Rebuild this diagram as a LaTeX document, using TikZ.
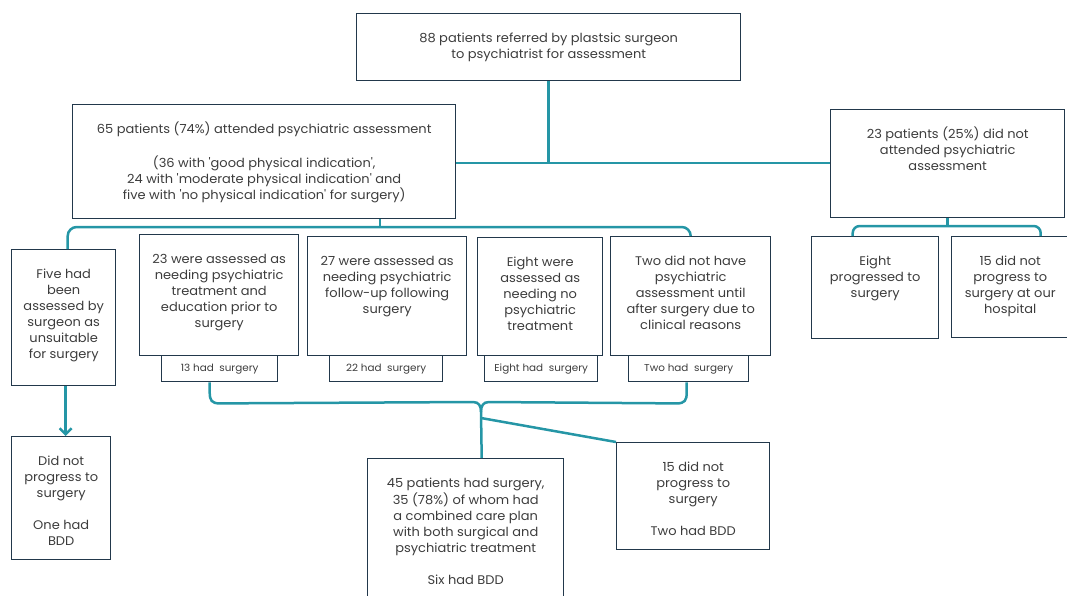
\documentclass[tikz,border=0pt]{standalone}
\usepackage{fontspec}
\setmainfont{Poppins}[Ligatures=TeXOff,FakeStretch=1.04]
\usetikzlibrary{arrows.meta,calc}
\definecolor{tealc}{HTML}{2596A6}
\definecolor{bord}{HTML}{22384B}
\definecolor{txt}{HTML}{3C3C3C}
\newcommand{\bxt}[3]{\parbox[c][#2][t]{#1}{\centering\vspace*{17.5pt}\strut #3\par}}
\tikzset{
  box/.style={draw=bord, line width=1.4pt, inner sep=0pt, anchor=north west, text=txt,
    font=\fontsize{12.5}{16}\selectfont},
  lab/.style={draw=bord, line width=1.4pt, inner sep=0pt, anchor=north west, text=txt,
    minimum height=26pt, font=\fontsize{10}{12}\selectfont},
  conn/.style={draw=tealc, line width=2.5pt},
}
\begin{document}
\begin{tikzpicture}[x=1pt,y=-1pt]
\useasboundingbox (0,0) rectangle (1067,595);
% boxes
\node[box] (top) at (356,13) {\bxt{384pt}{67pt}{88 patients referred by plastsic surgeon\\to psychiatrist for assessment}};
\node[box] (L) at (72,104) {\bxt{383pt}{114pt}{65 patients (74\%) attended psychiatric assessment\\[16pt](36 with 'good physical indication',\\24 with 'moderate physical indication' and\\five with 'no physical indication' for surgery)}};
\node[box] (R) at (830,109) {\bxt{234pt}{108pt}{23 patients (25\%) did not\\attended psychiatric\\assessment}};
\node[box] (S5) at (11,249) {\bxt{104pt}{136pt}{Five had\\been\\assessed by\\surgeon as\\unsuitable\\for surgery}};
\node[box] (A23) at (139,234) {\bxt{159pt}{121pt}{23 were assessed as\\needing psychiatric\\treatment and\\education prior to\\surgery}};
\node[box] (A27) at (307,236) {\bxt{159pt}{119pt}{27 were assessed as\\needing psychiatric\\follow-up following\\surgery}};
\node[box] (A8) at (477,237) {\bxt{125pt}{118pt}{Eight were\\assessed as\\needing no\\psychiatric\\treatment}};
\node[box] (A2) at (610,236) {\bxt{160pt}{119pt}{Two did not have\\psychiatric\\assessment until\\after surgery due to\\clinical reasons}};
\node[lab, minimum width=116pt] (l13) at (161,355) {13 had~ surgery};
\node[lab, minimum width=113pt] (l22) at (329,355) {22 had~ surgery};
\node[lab, minimum width=113pt] (l8) at (484,355) {Eight had~ surgery};
\node[lab, minimum width=120pt] (l2) at (628,355) {Two had~ surgery};
\node[box] (EP) at (811,236) {\bxt{127pt}{102pt}{Eight\\progressed to\\surgery}};
\node[box] (N15) at (951,236) {\bxt{117pt}{101pt}{15 did not\\progress to\\surgery at our\\hospital}};
\node[box] (BL) at (11,436) {\bxt{99pt}{123pt}{Did not\\progress to\\surgery\\[16pt]One had\\BDD}};
\node[box] (BM) at (367,458) {\bxt{196pt}{150pt}{45 patients had surgery,\\35 (78\%) of whom had\\a combined care plan\\with both surgical and\\psychiatric treatment\\[16pt]Six had BDD}};
\node[box] (BR) at (616,442) {\bxt{153pt}{107pt}{15 did not\\progress to\\surgery\\[16pt]Two had BDD}};
% junctions
\coordinate (j1) at (550,163);
\coordinate (j2) at (380,227);
\coordinate (j3) at (947,226);
\coordinate (j4) at (481,402);
\coordinate (j5) at (481,418);
% connectors
\draw[conn] (top.south) -- (top.south |- j1);
\draw[conn] (L.east |- j1) -- (R.west |- j1);
\draw[conn] (L.south -| j2) -- (j2);
\draw[conn, rounded corners=9pt] ([xshift=4pt]S5.north) -- ([xshift=4pt]S5.north |- j2) -- (A2.north |- j2) -- (A2.north);
\draw[conn] (R.south) -- (R.south |- j3);
\draw[conn, rounded corners=7pt] ([xshift=-22.5pt]EP.north) -- ([xshift=-22.5pt]EP.north |- j3) -- ([xshift=30.5pt]N15.north |- j3) -- ([xshift=30.5pt]N15.north);
\draw[conn] ([xshift=-10pt]l13.south) -- ++(0,10) .. controls +(0,8) and +(-8,0) .. ++(10,11) -- ($(j4)+(-8,0)$) .. controls +(6,0) and +(0,-6) .. ($(j4)+(0,10)$);
\draw[conn] ([xshift=-2pt]l2.south) -- ++(0,10) .. controls +(0,8) and +(8,0) .. ++(-10,11) -- ($(j4)+(8,0)$) .. controls +(-6,0) and +(0,-6) .. ($(j4)+(0,10)$);
\draw[conn] ($(j4)+(0,10)$) -- ([xshift=16pt]BM.north);
\draw[conn] (j5) -- (BR.north west);
\draw[conn, -{Straight Barb[length=6pt,width=12pt]}] ([xshift=2pt]S5.south) -- ([xshift=2pt]S5.south |- BL.north);
\end{tikzpicture}
\end{document}
